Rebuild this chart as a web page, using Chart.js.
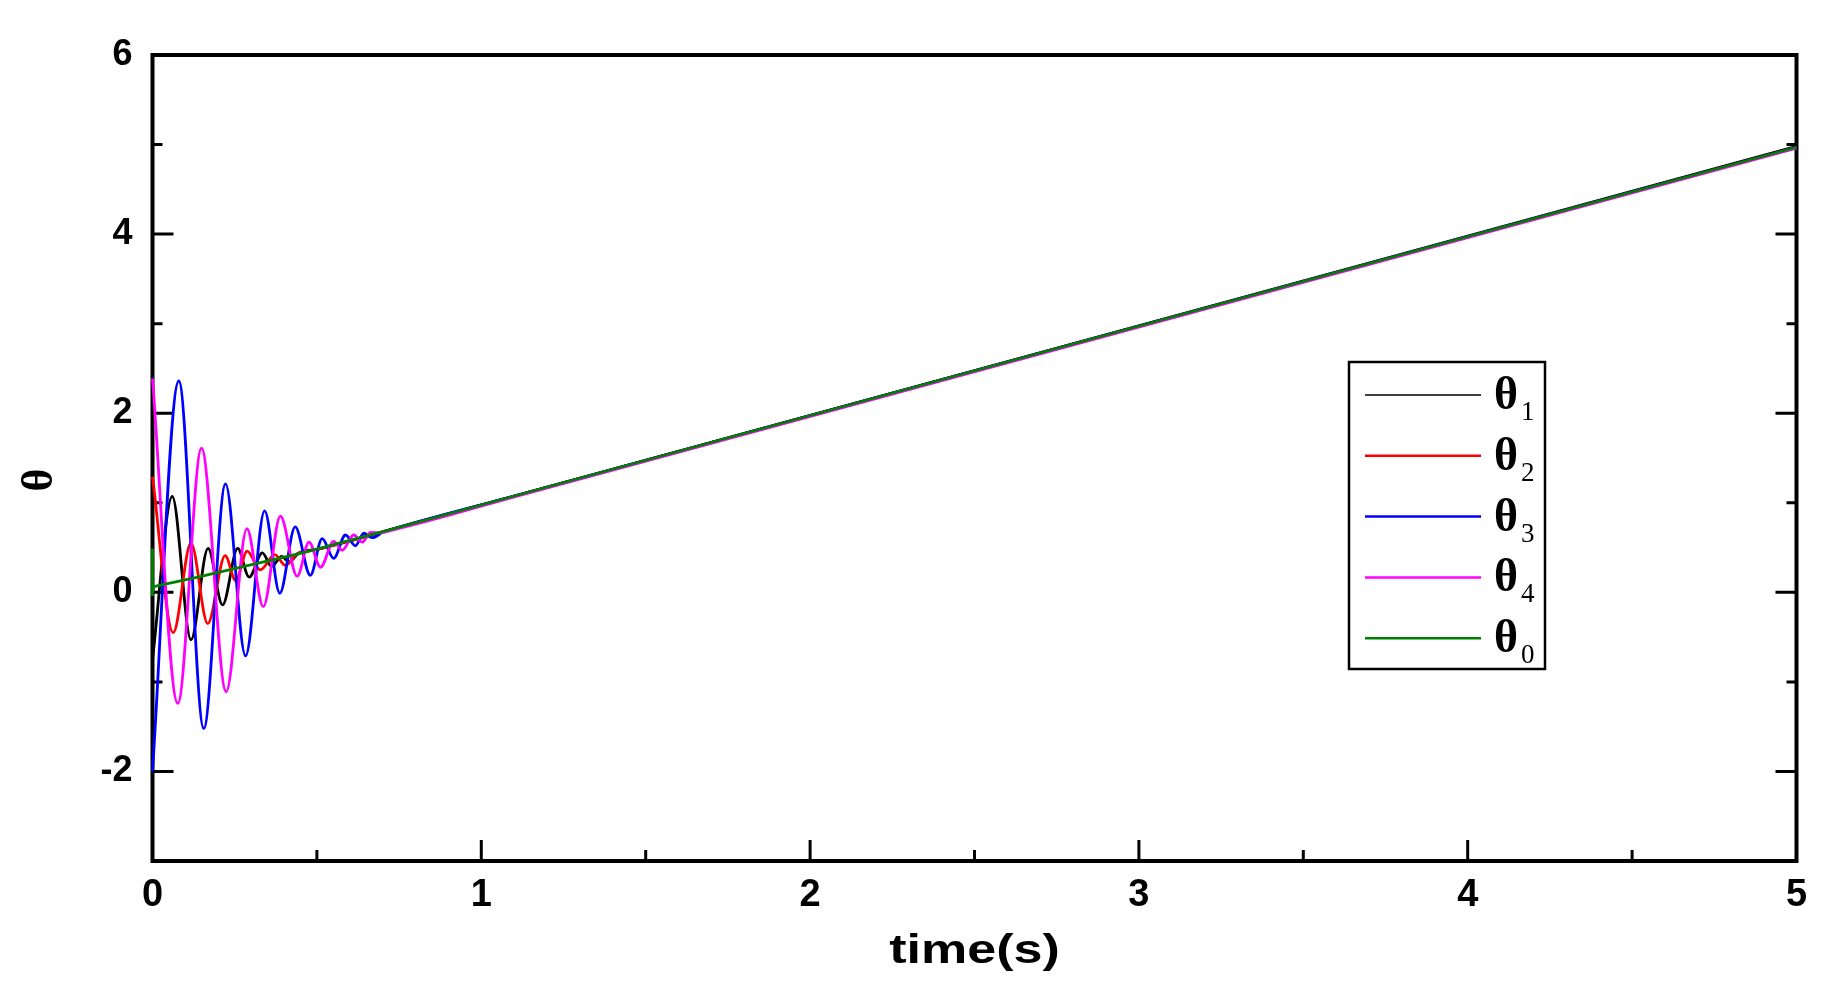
<!DOCTYPE html>
<html>
<head>
<meta charset="utf-8">
<title>theta vs time</title>
<script src="https://cdn.jsdelivr.net/npm/chart.js@4.4.1/dist/chart.umd.min.js"></script>
<style>
  html, body { margin: 0; padding: 0; background: #fff; }
  canvas { display: block; }
</style>
</head>
<body>
<canvas id="thetaChart" width="1825" height="987"></canvas>
<script>
// ===== values (peaks / troughs, then the common tail) =====
const t1  = [0, 0.060, 0.117, 0.169, 0.213, 0.259, 0.294, 0.334, 0.362, 0.393, 0.416, 0.445, 0.50, 0.724, 1.12, 5];
const th1 = [-0.75, 1.07, -0.53, 0.49, -0.14, 0.49, 0.17, 0.44, 0.29, 0.40, 0.34, 0.44, 0.48, 0.70, 1.095, 4.98];

const t2  = [0, 0.063, 0.117, 0.168, 0.221, 0.253, 0.288, 0.328, 0.372, 0.404, 0.44, 0.49, 0.724, 1.12, 5];
const th2 = [1.29, -0.45, 0.55, -0.35, 0.41, 0.13, 0.46, 0.25, 0.42, 0.30, 0.43, 0.47, 0.70, 1.095, 4.97];

const t3  = [0, 0.080, 0.156, 0.222, 0.283, 0.341, 0.387, 0.434, 0.480, 0.516, 0.551, 0.587, 0.617, 0.643, 0.668, 0.70, 0.724, 1.12, 5];
const th3 = [-2.0, 2.36, -1.52, 1.21, -0.71, 0.91, -0.01, 0.73, 0.19, 0.60, 0.38, 0.64, 0.52, 0.66, 0.61, 0.67, 0.70, 1.095, 4.97];

const t4  = [0, 0.077, 0.149, 0.224, 0.287, 0.337, 0.389, 0.44, 0.476, 0.511, 0.551, 0.577, 0.612, 0.638, 0.663, 0.69, 0.724, 1.12, 5];
const th4 = [2.39, -1.24, 1.61, -1.11, 0.71, -0.16, 0.85, 0.18, 0.56, 0.28, 0.57, 0.47, 0.64, 0.56, 0.67, 0.665, 0.69, 1.085, 4.96];

const t0  = [0, 0, 0.003, 0.131, 0.45, 0.724, 1.12, 5];
const th0 = [0.49, -0.04, 0.064, 0.165, 0.436, 0.70, 1.095, 4.97];

const xTicks = [0, 1, 2, 3, 4, 5];
const xMinor = [0.5, 1.5, 2.5, 3.5, 4.5];
const yTicks = [-2, 0, 2, 4, 6];
const yMinor = [-1, 1, 3, 5];

const seriesSubs = ['1', '2', '3', '4', '0'];
const seriesColors = ['#000000', '#ff0000', '#0000ff', '#ff00ff', '#008000'];
const xTitle = 'time(s)';
const yTitle = 'θ';

function pts(ts, vs) { return ts.map((t, i) => ({ x: t, y: vs[i] })); }

// frame + inward ticks, drawn under the curves like the original
const framePlugin = {
  id: 'frame',
  beforeDatasetsDraw(chart) {
    const { ctx, chartArea: a, scales } = chart;
    ctx.save();
    ctx.strokeStyle = '#000';
    ctx.lineWidth = 4;
    ctx.strokeRect(a.left, a.top, a.right - a.left, a.bottom - a.top);
    ctx.lineWidth = 3;
    ctx.beginPath();
    const yTick = (v, len) => {
      const py = scales.y.getPixelForValue(v);
      ctx.moveTo(a.left, py); ctx.lineTo(a.left + len, py);
      ctx.moveTo(a.right, py); ctx.lineTo(a.right - len, py);
    };
    yTicks.forEach(v => yTick(v, 21));
    yMinor.forEach(v => yTick(v, 10));
    const xTick = (v, len) => {
      const px = scales.x.getPixelForValue(v);
      ctx.moveTo(px, a.bottom); ctx.lineTo(px, a.bottom - len);
    };
    xTicks.forEach(v => xTick(v, 21));
    xMinor.forEach(v => xTick(v, 11));
    ctx.stroke();
    ctx.restore();
  }
};

// legend box with subscripts + axis titles
const textPlugin = {
  id: 'texts',
  afterDraw(chart) {
    const { ctx, chartArea: a } = chart;
    ctx.save();
    ctx.fillStyle = '#000';

    // x title (stretched sideways in the original)
    ctx.save();
    ctx.font = 'bold 40px "Liberation Sans", Arial, sans-serif';
    ctx.textAlign = 'center';
    ctx.textBaseline = 'middle';
    ctx.translate((a.left + a.right) / 2, 952);
    ctx.scale(1.3, 1);
    ctx.fillText(xTitle, 0, 0);
    ctx.restore();

    // y title, rotated
    ctx.save();
    ctx.font = 'bold 44px "Liberation Serif", "Times New Roman", serif';
    ctx.textAlign = 'center';
    ctx.textBaseline = 'middle';
    ctx.translate(41, 480);
    ctx.rotate(-Math.PI / 2);
    ctx.fillText(yTitle, 0, 0);
    ctx.restore();

    // legend
    const bx = 1349, by = 362, bw = 196, bh = 307;
    ctx.fillStyle = '#fff';
    ctx.fillRect(bx, by, bw, bh);
    ctx.strokeStyle = '#000';
    ctx.lineWidth = 2.5;
    ctx.strokeRect(bx, by, bw, bh);
    seriesSubs.forEach((s, i) => {
      const ly = 395 + i * 60.8;
      ctx.strokeStyle = seriesColors[i];
      ctx.lineWidth = i === 0 ? 1.5 : 2.5;
      ctx.beginPath();
      ctx.moveTo(1365, ly);
      ctx.lineTo(1481, ly);
      ctx.stroke();
      ctx.fillStyle = '#000';
      ctx.textAlign = 'left';
      ctx.textBaseline = 'alphabetic';
      ctx.font = 'bold 46px "Liberation Serif", "Times New Roman", serif';
      ctx.fillText('θ', 1494, ly + 14);
      ctx.font = '27px "Liberation Serif", "Times New Roman", serif';
      ctx.fillText(s, 1521, ly + 25);
    });
    ctx.restore();
  }
};

const lineDs = (ts, vs, color, order) => ({
  data: pts(ts, vs),
  borderColor: color,
  borderWidth: 2.8,
  pointRadius: 0,
  fill: false,
  clip: false,
  cubicInterpolationMode: 'monotone',
  order
});

const green = lineDs(t0, th0, seriesColors[4], 0);
green.cubicInterpolationMode = 'default';
green.tension = 0;

new Chart(document.getElementById('thetaChart'), {
  type: 'line',
  data: {
    datasets: [
      lineDs(t1, th1, seriesColors[0], 4),
      lineDs(t2, th2, seriesColors[1], 3),
      lineDs(t3, th3, seriesColors[2], 2),
      lineDs(t4, th4, seriesColors[3], 1),
      green
    ]
  },
  options: {
    responsive: false,
    animation: false,
    layout: { padding: { top: 55, right: 28.5, left: 0, bottom: 0 } },
    plugins: { legend: { display: false }, tooltip: { enabled: false } },
    scales: {
      x: {
        type: 'linear', min: 0, max: 5,
        grid: { display: false, drawTicks: false },
        border: { display: false },
        afterFit: s => { s.height = 126; },
        afterBuildTicks: s => { s.ticks = xTicks.map(v => ({ value: v })); },
        ticks: {
          color: '#000', padding: 12, maxRotation: 0, autoSkip: false,
          font: { family: '"Liberation Sans", Arial, sans-serif', size: 38, weight: 'bold' }
        }
      },
      y: {
        type: 'linear', min: -3, max: 6,
        grid: { display: false, drawTicks: false },
        border: { display: false },
        afterFit: s => { s.width = 152.5; },
        afterBuildTicks: s => { s.ticks = yTicks.map(v => ({ value: v })); },
        ticks: {
          color: '#000', padding: 20,
          font: { family: '"Liberation Sans", Arial, sans-serif', size: 36, weight: 'bold' }
        }
      }
    }
  },
  plugins: [framePlugin, textPlugin]
});
</script>
</body>
</html>
